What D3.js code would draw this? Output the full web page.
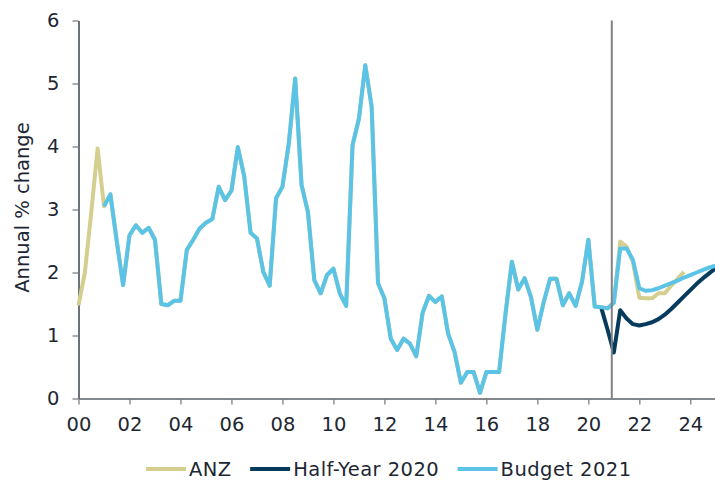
<!DOCTYPE html>
<html>
<head>
<meta charset="utf-8">
<script src="https://cdn.jsdelivr.net/npm/d3@7/dist/d3.min.js"></script>
<style>
  html, body { margin: 0; padding: 0; background: #fff; }
  svg { display: block; font-family: "DejaVu Sans", Verdana, sans-serif; }
</style>
</head>
<body>
<svg id="chart" width="715" height="481"></svg>
<script>
// ---- Data (quarterly, annual % change) ----
const actualStart = 2000.0;
const actual = [
  1.48, 2.00, 2.95, 3.97,
  3.05, 3.24, 2.50, 1.80,
  2.59, 2.75, 2.63, 2.71,
  2.52, 1.50, 1.48, 1.55,
  1.55, 2.36, 2.52, 2.70,
  2.79, 2.85, 3.36, 3.15,
  3.30, 3.99, 3.53, 2.63,
  2.54, 2.01, 1.79, 3.18,
  3.36, 4.05, 5.08, 3.39,
  2.96, 1.88, 1.67, 1.96,
  2.06, 1.67, 1.47, 4.02,
  4.44, 5.29, 4.63, 1.83,
  1.59, 0.95, 0.77, 0.95,
  0.87, 0.67, 1.36, 1.63,
  1.53, 1.62, 1.03, 0.74,
  0.25, 0.42, 0.42, 0.09,
  0.42, 0.42, 0.42, 1.34,
  2.17, 1.73, 1.91, 1.61,
  1.09, 1.53, 1.90, 1.90,
  1.48, 1.67, 1.47, 1.85,
  2.52, 1.46, 1.45, 1.43
];
const budgetStart = 2001.0;
const forecastStart = 2021.0;
const anzForecast = [1.52, 2.49, 2.41, 2.17, 1.60, 1.59, 1.59, 1.67, 1.67, 1.79, 1.90, 2.01];
const budgetForecast = [1.52, 2.38, 2.38, 2.20, 1.75, 1.71, 1.72, 1.75, 1.79, 1.83, 1.87, 1.92, 1.96, 2.00, 2.04, 2.08, 2.11];
const halfYearStart = 2020.5;
const halfYear = [1.45, 1.10, 0.73, 1.40, 1.27, 1.18, 1.16, 1.18, 1.21, 1.26, 1.33, 1.42, 1.52, 1.62, 1.72, 1.82, 1.91, 1.99, 2.07];
const forecastMarker = 2020.92;
const xTicks = [2000, 2002, 2004, 2006, 2008, 2010, 2012, 2014, 2016, 2018, 2020, 2022, 2024];
const yTicks = [0, 1, 2, 3, 4, 5, 6];
const seriesNames = ["ANZ", "Half-Year 2020", "Budget 2021"];
const seriesColors = ["#d4cf8f", "#073b5e", "#5bc4e6"];

// ---- Build series ----
const toPts = (start, arr) => arr.map((v, i) => ({ t: start + i * 0.25, v }));
const actualPts = toPts(actualStart, actual);
const series = [
  { name: seriesNames[0], color: seriesColors[0],
    pts: actualPts.concat(toPts(forecastStart, anzForecast)) },
  { name: seriesNames[1], color: seriesColors[1],
    pts: toPts(halfYearStart, halfYear) },
  { name: seriesNames[2], color: seriesColors[2],
    pts: actualPts.filter(d => d.t >= budgetStart).concat(toPts(forecastStart, budgetForecast)) }
];

// ---- Layout ----
const svg = d3.select("#chart");
const x = d3.scaleLinear().domain([2000, 2025]).range([78.5, 715.8]);
const y = d3.scaleLinear().domain([0, 6]).range([398.5, 20.5]);
const fontSize = 19.5;
const textColor = "#1d2733";

// Y axis
const yAxis = svg.append("g")
  .attr("transform", `translate(${x(2000)},0)`)
  .call(d3.axisLeft(y).tickValues(yTicks).tickSize(6).tickSizeOuter(0).tickPadding(13).tickFormat(d3.format("d")));
yAxis.select(".domain").attr("stroke", "#1d2733").attr("stroke-width", 1.3);
yAxis.selectAll(".tick line").attr("stroke", "#7f7f7f").attr("stroke-width", 1.3);
yAxis.selectAll(".tick text").attr("fill", textColor).style("font-size", fontSize + "px").attr("font-family", "DejaVu Sans");

// X axis
const xAxis = svg.append("g")
  .attr("transform", `translate(0,${y(0)})`)
  .call(d3.axisBottom(x).tickValues(xTicks).tickSize(6).tickSizeOuter(0).tickPadding(13)
    .tickFormat(d => d3.format("02d")(d % 100)));
xAxis.select(".domain").attr("stroke", "#595f66").attr("stroke-width", 1.3);
xAxis.selectAll(".tick line").attr("stroke", "#7f7f7f").attr("stroke-width", 1.3);
xAxis.selectAll(".tick text").attr("fill", textColor).style("font-size", fontSize + "px").attr("font-family", "DejaVu Sans");

// Y axis title
svg.append("text")
  .attr("transform", `translate(22,${(y(0) + y(6)) / 2 - 2}) rotate(-90)`)
  .attr("text-anchor", "middle")
  .attr("dominant-baseline", "central")
  .attr("fill", textColor)
  .style("font-size", fontSize + "px")
  .text("Annual % change");

// Lines
const line = d3.line().x(d => x(d.t)).y(d => y(d.v));
svg.append("g").selectAll("path")
  .data(series)
  .join("path")
  .attr("d", d => line(d.pts))
  .attr("fill", "none")
  .attr("stroke", d => d.color)
  .attr("stroke-width", 4)
  .attr("stroke-linejoin", "round")
  .attr("stroke-linecap", "butt");

// Forecast marker
svg.append("line")
  .attr("x1", x(forecastMarker)).attr("x2", x(forecastMarker))
  .attr("y1", y(6)).attr("y2", y(0))
  .attr("stroke", "#808285").attr("stroke-width", 2);

// Legend
const legend = svg.append("g").attr("transform", "translate(146,469)");
let lx = 0;
series.forEach(s => {
  const g = legend.append("g").attr("transform", `translate(${lx},0)`);
  g.append("line").attr("x1", 0).attr("x2", 40).attr("y1", 0).attr("y2", 0)
    .attr("stroke", s.color).attr("stroke-width", 4);
  const t = g.append("text").attr("x", 43).attr("y", 0)
    .attr("dominant-baseline", "central")
    .attr("fill", textColor)
    .style("font-size", fontSize + "px")
    .style("letter-spacing", "0.45px")
    .text(s.name);
  lx += 43 + t.node().getComputedTextLength() + 18.5;
});
</script>
</body>
</html>
